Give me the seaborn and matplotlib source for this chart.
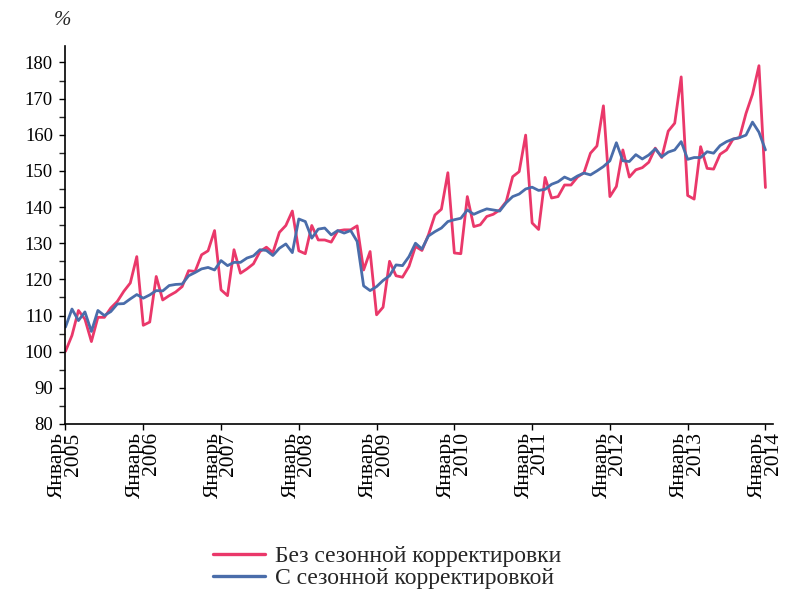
import pandas as pd
import numpy as np
import matplotlib
matplotlib.use('Agg')
import matplotlib.pyplot as plt
from matplotlib.lines import Line2D
import seaborn as sns

# Помесячные данные, январь 2005 - январь 2014, %
raw = [
    100.1, 104.5, 111.4, 109.0, 102.8, 109.5, 109.5, 112.1, 113.9, 116.7, 119.0, 126.3,
    107.3, 108.2, 120.8, 114.3, 115.5, 116.5, 118.0, 122.4, 122.2, 126.8, 127.9, 133.5,
    117.1, 115.5, 128.2, 121.7, 122.9, 124.3, 127.7, 128.9, 127.4, 133.0, 134.9, 138.9,
    127.9, 127.1, 134.9, 130.9, 130.9, 130.3, 133.4, 133.7, 133.7, 134.8, 122.6, 127.7,
    110.2, 112.3, 125.0, 121.0, 120.6, 123.6, 129.1, 128.0, 132.3, 137.8, 139.4, 149.5,
    127.3, 127.1, 142.9, 134.6, 135.1, 137.4, 138.0, 139.2, 141.5, 148.4, 149.8, 159.9,
    135.6, 133.8, 148.2, 142.5, 142.9, 146.1, 146.1, 148.3, 149.5, 154.9, 156.9, 168.0,
    142.9, 145.7, 155.8, 148.3, 150.3, 150.9, 152.4, 156.3, 153.7, 161.0, 163.2, 176.0,
    143.2, 142.2, 156.7, 150.7, 150.5, 154.6, 155.8, 158.8, 159.2, 165.9, 171.2, 179.1,
    145.4,
]
adjusted = [
    106.8, 111.8, 108.6, 111.0, 105.6, 111.4, 110.0, 111.1, 113.2, 113.3, 114.6, 115.8,
    114.8, 115.7, 116.9, 116.8, 118.3, 118.6, 118.7, 121.0, 121.9, 122.9, 123.3, 122.6,
    125.2, 123.8, 124.7, 124.7, 125.9, 126.5, 128.2, 128.0, 126.6, 128.6, 129.8, 127.4,
    136.7, 136.0, 131.4, 133.9, 134.2, 132.3, 133.5, 132.8, 133.5, 130.5, 118.2, 116.9,
    118.0, 119.7, 121.0, 124.0, 123.8, 126.3, 130.0, 128.4, 132.0, 133.2, 134.2, 136.0,
    136.5, 136.9, 139.2, 138.0, 138.8, 139.5, 139.2, 138.9, 141.2, 142.9, 143.6, 145.0,
    145.5, 144.6, 144.9, 146.3, 147.0, 148.3, 147.5, 148.6, 149.4, 148.9, 150.0, 151.2,
    152.8, 157.8, 152.8, 152.6, 154.5, 153.3, 154.4, 156.1, 153.9, 155.2, 155.8, 158.1,
    153.2, 153.7, 153.7, 155.3, 154.9, 157.0, 158.1, 158.8, 159.2, 159.9, 163.5, 160.7,
    155.8,
]
years = list(range(2005, 2015))
tick_labels = [f"Январь\n{y}" for y in years]
series_names = ["Без сезонной корректировки", "С сезонной корректировкой"]
colors = ["#EA386A", "#4A6DAA"]

months = np.arange(len(raw))
df = pd.concat([
    pd.DataFrame({"m": months, "v": raw, "s": series_names[0]}),
    pd.DataFrame({"m": months, "v": adjusted, "s": series_names[1]}),
])

sns.set_style("ticks")
plt.rcParams['font.family'] = ['Liberation Serif', 'DejaVu Serif']

fig = plt.figure(figsize=(7.89, 5.95), dpi=100)
ax = fig.add_axes([0.083, 0.2874, 0.897, 0.635])
sns.lineplot(data=df, x="m", y="v", hue="s", palette=colors, linewidth=2.0,
             ax=ax, legend=False)

ax.set_xlim(0, 109.2)
ax.set_ylim(80, 184.5)
ax.set_yticks(np.arange(80, 181, 10))
ax.set_yticks(np.arange(85, 181, 10), minor=True)
ax.set_xticks(np.arange(0, 109, 12))
ax.set_xticklabels(tick_labels, rotation=90, ha='center', va='top',
                   multialignment='right', linespacing=0.75, fontsize=15.5)
ax.tick_params(axis='both', direction='out', length=4, width=1, colors='black')
ax.tick_params(axis='y', labelsize=13.5, pad=5)
ax.tick_params(axis='y', which='minor', direction='out', length=4, width=1)
ax.tick_params(axis='x', pad=2)
ax.set_xlabel("")
ax.set_ylabel("")
sns.despine(ax=ax)
for sp in ['left', 'bottom']:
    ax.spines[sp].set_linewidth(1.2)
    ax.spines[sp].set_color('black')

fig.text(0.079, 0.966, "%", fontsize=15, style='italic', ha='center', va='center')

handles = [Line2D([], [], color=c, linewidth=2.4) for c in colors]
fig.legend(handles, series_names, loc='center', bbox_to_anchor=(0.491, 0.046),
           frameon=False, fontsize=17, handlelength=2.2, handletextpad=0.42,
           labelspacing=0.02, borderpad=0)

fig.savefig("out.png", dpi=100)
